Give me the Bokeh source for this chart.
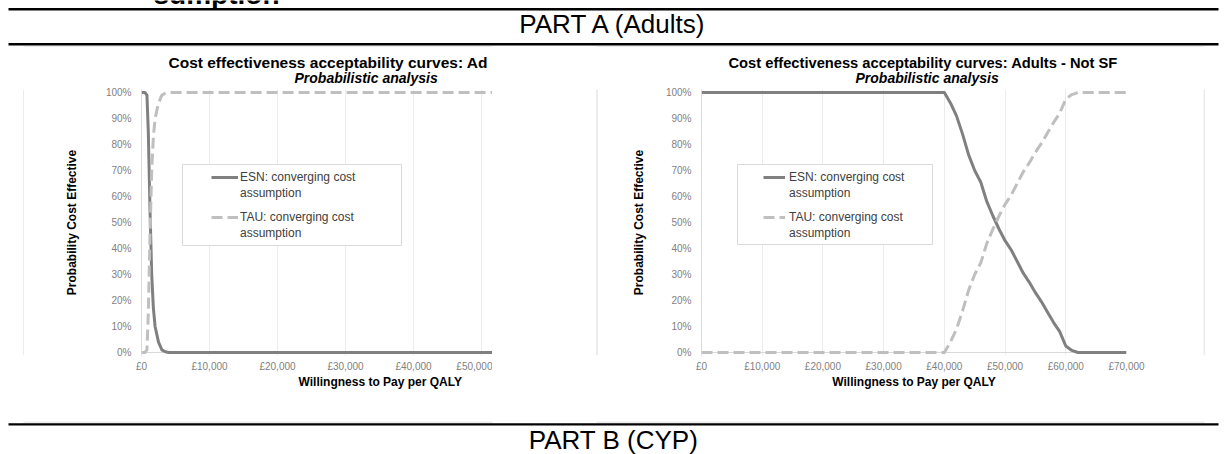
from bokeh.plotting import figure
from bokeh.models import (Range1d, FixedTicker, Title, Legend, LegendItem,
                          BoxAnnotation, Span)
from bokeh.layouts import column, row
from bokeh.embed import file_html
from bokeh.resources import INLINE
from bokeh.core.properties import value

# ---------------- data ----------------
wtp_adults_sf = [0, 500, 800, 1000, 1250, 1500, 1750, 2000, 2500, 3000, 3500, 4000, 70000]
esn_adults_sf = [100, 100, 99, 85, 55, 30, 17, 10, 4, 1, 0.3, 0, 0]
tau_adults_sf = [0, 0, 1, 15, 45, 70, 83, 90, 96, 99, 99.7, 100, 100]

wtp_adults_not_sf = [0, 10000, 20000, 30000, 40000, 41000, 42000, 43000, 44000, 45000,
                     46000, 47000, 48000, 49000, 50000, 51000, 52000, 53000, 54000, 55000,
                     56000, 57000, 58000, 59000, 60000, 61000, 62000, 70000]
esn_adults_not_sf = [100, 100, 100, 100, 100, 96, 91, 84, 76, 70,
                     65.5, 58, 52.5, 47.5, 43, 39.5, 35, 30.5, 27, 23,
                     19.5, 15.5, 11.5, 8, 2.5, 0.8, 0, 0]
tau_adults_not_sf = [0, 0, 0, 0, 0, 4, 9, 16, 24, 30,
                     34.5, 42, 47.5, 52.5, 57, 60.5, 65, 69.5, 73, 77,
                     80.5, 84.5, 88.5, 92, 97.5, 99.2, 100, 100]

x_ticks = [0, 10000, 20000, 30000, 40000, 50000, 60000, 70000]
x_tick_labels = ["£0", "£10,000", "£20,000", "£30,000", "£40,000", "£50,000", "£60,000", "£70,000"]
y_ticks = [0, 10, 20, 30, 40, 50, 60, 70, 80, 90, 100]
y_tick_labels = ["0%", "10%", "20%", "30%", "40%", "50%", "60%", "70%", "80%", "90%", "100%"]

series_labels = ["ESN: converging cost", "TAU: converging cost"]
label_second_line = "assumption"
title_left = "Cost effectiveness acceptability curves: Ad"
title_right = "Cost effectiveness acceptability curves: Adults - Not SF"
subtitle = "Probabilistic analysis"
x_title = "Willingness to Pay per QALY"
y_title = "Probability Cost Effective"
heading_tail = "sumption"
part_a = "PART A (Adults)"
part_b = "PART B (CYP)"

# ---------------- styles / layout ----------------
FONT = "Liberation Sans"
ESN_COLOR = "#808080"
TAU_COLOR = "#bfbfbf"
PANEL_COLOR = "#d9d9d9"
HDR_H = 47            # window y 0..47
ROW_H = 374           # window y 47..421
FTR_H = 33            # window y 421..454
ROW_TOP = HDR_H
TOP_B = 42
BOT_B = 66
PX_PER_PCT = 2.6
PAD = 3 / PX_PER_PCT
FRAME_BOTTOM_WIN = ROW_TOP + ROW_H - BOT_B   # 355


def make_chart(width, bl, br, x_end, frame_left_win, px_per_x, title_text, title_size,
               title_off, sub_off, xt_align, xt_off, ylab_standoff,
               legend_box_px, glyph_w, glyph_lead, lab_standoff, wtp, esn, tau):
    p = figure(width=width, height=ROW_H, x_range=Range1d(0, x_end),
               y_range=Range1d(-PAD, 100 + PAD), output_backend="svg",
               toolbar_location=None, title=None,
               min_border_left=bl, min_border_right=br,
               min_border_top=TOP_B, min_border_bottom=BOT_B)
    p.background_fill_color = "white"
    p.border_fill_color = "white"
    p.outline_line_color = None

    p.xaxis.ticker = FixedTicker(ticks=x_ticks)
    p.xaxis.major_label_overrides = dict(zip(x_ticks, x_tick_labels))
    p.yaxis.ticker = FixedTicker(ticks=y_ticks)
    p.yaxis.major_label_overrides = dict(zip(y_ticks, y_tick_labels))
    for ax in (p.xaxis[0], p.yaxis[0]):
        ax.major_tick_line_color = None
        ax.minor_tick_line_color = None
        ax.major_tick_out = 0
        ax.major_tick_in = 0
        ax.major_label_text_font = FONT
        ax.major_label_text_font_size = "10px"
        ax.major_label_text_color = "#7f7f7f"
    p.xaxis.axis_line_color = None
    p.xaxis.major_label_standoff = 5
    p.yaxis.axis_line_color = PANEL_COLOR
    p.yaxis.major_label_standoff = 10
    p.yaxis.axis_label = y_title
    p.yaxis.axis_label_text_font = FONT
    p.yaxis.axis_label_text_font_size = "12px"
    p.yaxis.axis_label_text_font_style = "bold"
    p.yaxis.axis_label_text_color = "black"
    p.yaxis.axis_label_standoff = ylab_standoff

    p.xgrid.ticker = FixedTicker(ticks=x_ticks)
    p.xgrid.grid_line_color = "#ececec"
    p.ygrid.grid_line_color = None
    p.add_layout(Span(location=0, dimension="width", line_color=PANEL_COLOR,
                      line_width=1, level="underlay"))

    # titles (subtitle nearest the plot area, main title above it)
    p.add_layout(Title(text=subtitle, align="left", offset=sub_off, standoff=8,
                       text_font=FONT, text_font_size="14px",
                       text_font_style="bold italic", text_color="black"), "above")
    p.add_layout(Title(text=title_text, align="left", offset=title_off, standoff=-15,
                       text_font=FONT, text_font_size=title_size,
                       text_font_style="bold", text_color="black"), "above")
    p.add_layout(Title(text=x_title, align=xt_align, offset=xt_off, standoff=0,
                       vertical_align="top", text_font=FONT, text_font_size="12px",
                       text_font_style="bold", text_color="black"), "below")

    r_esn = p.line(wtp, esn, line_color=ESN_COLOR, line_width=3, line_join="round")
    r_tau = p.line(wtp, tau, line_color=TAU_COLOR, line_width=3, line_dash="11 5",
                   line_join="round")

    def px2x(px):
        return (px - frame_left_win) / px_per_x

    def px2y(py):
        return (352 - py) / PX_PER_PCT

    L, R, T, B = legend_box_px
    p.add_layout(BoxAnnotation(left=px2x(L), right=px2x(R), top=px2y(T), bottom=px2y(B),
                               fill_color="white", fill_alpha=1,
                               line_color=PANEL_COLOR, line_alpha=1, line_width=1))
    vx = L + glyph_lead - frame_left_win
    for rend, lab, first_center in ((r_esn, series_labels[0], 177),
                                    (r_tau, series_labels[1], 217)):
        leg = Legend(items=[LegendItem(label=lab, renderers=[rend]),
                            LegendItem(label=label_second_line, renderers=[])],
                     location=(vx, FRAME_BOTTOM_WIN - (first_center - 8 + 32)),
                     border_line_color=None, background_fill_alpha=0,
                     padding=0, margin=0, spacing=0, label_height=16,
                     glyph_height=16, glyph_width=glyph_w,
                     label_standoff=lab_standoff, label_text_font=FONT,
                     label_text_font_size="12px", label_text_color="#404040")
        p.add_layout(leg)
    return p


left = make_chart(width=468, bl=117, br=0, x_end=70000 * 351 / 476,
                  frame_left_win=141, px_per_x=476 / 70000, title_text=title_left,
                  title_size="15.5px", title_off=27, sub_off=153, xt_align="left",
                  xt_off=157, ylab_standoff=24, legend_box_px=(182, 401, 164, 245),
                  glyph_w=27, glyph_lead=29, lab_standoff=2, wtp=wtp_adults_sf,
                  esn=esn_adults_sf, tau=tau_adults_sf)
right = make_chart(width=605, bl=103, br=77, x_end=70000,
                   frame_left_win=701, px_per_x=425 / 70000, title_text=title_right,
                   title_size="14.7px", title_off=27, sub_off=154, xt_align="center",
                   xt_off=0, ylab_standoff=17, legend_box_px=(737, 932, 164, 244),
                   glyph_w=22, glyph_lead=26, lab_standoff=4, wtp=wtp_adults_not_sf,
                   esn=esn_adults_not_sf, tau=tau_adults_not_sf)


def blank(width, height):
    f = figure(width=width, height=height, x_range=Range1d(0, width),
               y_range=Range1d(height, 0), output_backend="svg",
               toolbar_location=None, x_axis_type=None, y_axis_type=None,
               min_border=0, min_border_left=0, min_border_right=0,
               min_border_top=0, min_border_bottom=0, title=None)
    f.outline_line_color = None
    f.grid.visible = False
    f.background_fill_color = "white"
    f.border_fill_color = "white"
    return f


def mid(baseline, size):
    # convert a wanted baseline into the em-box middle used with text_baseline="middle"
    return baseline - 0.3465 * size


# header (window y 0..47)
hdr = blank(1226, HDR_H)
hdr.text(x=[153], y=[mid(3.5, 28)], text=[heading_tail], text_align="left",
         text_baseline="middle", text_font=value(FONT), text_font_size="28px",
         text_font_style="bold", text_color="black")
hdr.segment(x0=[8], y0=[8.7], x1=[1218], y1=[8.7], line_color="black", line_width=2.4)
hdr.segment(x0=[8], y0=[43.8], x1=[1218], y1=[43.8], line_color="black", line_width=2.4)
hdr.segment(x0=[23, 596], y0=[46.5, 46.5], x1=[492, 1204], y1=[46.5, 46.5],
            line_color=PANEL_COLOR, line_width=1)
hdr.text(x=[613], y=[mid(33, 26)], text=[part_a], text_align="center",
         text_baseline="middle", text_font=value(FONT), text_font_size="26px",
         text_color="black")

# vertical panel edges
s1 = blank(24, ROW_H)
s1.segment(x0=[23.5], y0=[0], x1=[23.5], y1=[ROW_H], line_color=PANEL_COLOR, line_width=1)
gap = blank(106, ROW_H)
gap.segment(x0=[104.5], y0=[0], x1=[104.5], y1=[ROW_H], line_color=PANEL_COLOR, line_width=1)
s2 = blank(23, ROW_H)
s2.segment(x0=[0.5], y0=[0], x1=[0.5], y1=[ROW_H], line_color=PANEL_COLOR, line_width=1)

# footer (window y 421..454)
ftr = blank(1226, FTR_H)
ftr.segment(x0=[23, 596], y0=[0.5, 0.5], x1=[492, 1204], y1=[0.5, 0.5],
            line_color=PANEL_COLOR, line_width=1)
ftr.segment(x0=[8], y0=[2.9], x1=[1218], y1=[2.9], line_color="black", line_width=2.4)
ftr.text(x=[613], y=[mid(27.5, 26)], text=[part_b], text_align="center",
         text_baseline="middle", text_font=value(FONT), text_font_size="26px",
         text_color="black")

root = column(hdr, row(s1, left, gap, right, s2), ftr)

open("out.html", "w").write(file_html(root, INLINE, "CEAC"))
